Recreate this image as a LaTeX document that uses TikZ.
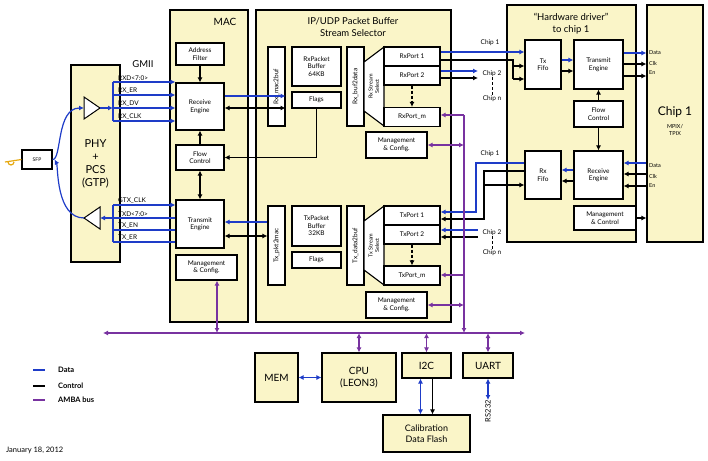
\documentclass[tikz,border=0pt]{standalone}
\usepackage{fontspec}
\setmainfont{Lato}
\usepackage{tikz}
\usetikzlibrary{calc,arrows.meta}
\definecolor{pale}{RGB}{250,245,200}
\definecolor{datab}{RGB}{30,60,200}
\definecolor{amba}{RGB}{120,50,160}
\definecolor{fibre}{RGB}{230,170,20}
\tikzset{
  blk/.style={draw,line width=1.1pt,fill=white,inner sep=0pt,align=center,font=\fontsize{6.5}{7.5}\selectfont},
  yblk/.style={blk,fill=pale},
  vblk/.style={blk,rotate=90},
  dat/.style={datab,line width=1.2pt},
  ctl/.style={black,line width=1.2pt},
  bus/.style={amba,line width=1.2pt},
  lbl/.style={font=\fontsize{6.5}{7.5}\selectfont,inner sep=0pt}
}
\begin{document}
\begin{tikzpicture}[x=1pt,y=-1pt,>={Latex[length=5pt,width=5pt]}]
  \useasboundingbox (0,0) rectangle (708,460);
  % containers
  \node[yblk,minimum width=78,minimum height=312] (mac) at (209,166) {};
  \node[font=\fontsize{10}{12}\selectfont] (mactitle) at (225,22) {MAC};
  \node[yblk,minimum width=195,minimum height=312] (ip) at (353.5,166) {};
  \node[font=\fontsize{9.5}{12}\selectfont,align=center] (iptitle) at (353,27) {IP/UDP Packet Buffer\\Stream Selector};
  \node[yblk,minimum width=129,minimum height=237] (drv) at (571.5,123.5) {};
  \node[font=\fontsize{9.5}{12}\selectfont,align=center] (drvtitle) at (571,24) {``Hardware driver''\\to chip 1};
  \node[yblk,minimum width=56,minimum height=237] (chip) at (675,123.5) {};
  \node[align=center,font=\fontsize{12}{13}\selectfont] (chiptitle) at (675,112) {Chip 1};
  \node[lbl,align=center,font=\fontsize{5.5}{7}\selectfont] (chipsub) at (675,130) {MPIX/\\TPIX};
  % PHY and SFP
  \node[yblk,minimum width=49,minimum height=197,font=\fontsize{11}{13}\selectfont] (phy) at (95.5,163.5) {PHY\\+\\PCS\\(GTP)};
  \node[blk,minimum width=30,minimum height=19,font=\fontsize{5}{6}\selectfont] (sfp) at (37,159.5) {SFP};
  \draw[line width=1pt,fill=white] (84,97) -- (100,108) -- (84,119) -- cycle;
  \draw[line width=1pt,fill=white] (100,207) -- (84,218) -- (100,229) -- cycle;
  \coordinate (rxamp) at (84,108);
  \coordinate (rxout) at (100,108);
  \coordinate (txamp) at (84,218);
  \coordinate (txin) at (100,218);
  \draw[fibre,line width=1.2pt] (5,162) -- (sfp.west) (14,162) arc (0:180:3);
  \node[font=\fontsize{9.5}{11}\selectfont] (gmii) at (143,64) {GMII};
  % MAC blocks
  \node[blk,minimum width=48,minimum height=22] (addr) at (200,54) {Address\\Filter};
  \node[blk,minimum width=48,minimum height=47] (rxeng) at (200,106.5) {Receive\\Engine};
  \node[blk,minimum width=48,minimum height=25] (flow) at (200,157.5) {Flow\\Control};
  \node[blk,minimum width=48,minimum height=48] (txeng) at (200,224) {Transmit\\Engine};
  \node[blk,minimum width=61,minimum height=25] (macmg) at (206.5,267.5) {Management\\\& Config.};
  % buffer blocks
  \node[vblk,minimum width=79,minimum height=17] (rxm2b) at (276.5,86.5) {Rx\_mac2buf};
  \node[blk,minimum width=49,minimum height=39] (rxbuf) at (316.5,66.5) {RxPacket\\Buffer\\64KB};
  \node[blk,minimum width=49,minimum height=16] (rxflags) at (316.5,100) {Flags};
  \node[vblk,minimum width=79,minimum height=17] (rxb2d) at (355.5,86.5) {Rx\_buf2data};
  \draw[line width=1.1pt,fill=white] (364,62) -- (384,47) -- (384,126) -- (364,111) -- cycle;
  \node[lbl,rotate=90,align=center,font=\fontsize{5.5}{6.5}\selectfont] (rxsel) at (374,86.5) {Rx Stream\\Select};
  \node[blk,minimum width=56,minimum height=19] (rxp1) at (412,56.5) {RxPort 1};
  \node[blk,minimum width=56,minimum height=19] (rxp2) at (412,75.5) {RxPort 2};
  \node[blk,minimum width=56,minimum height=19] (rxpm) at (412,117) {RxPort\_m};
  \node[blk,minimum width=61,minimum height=26] (rxmg) at (396.5,145) {Management\\\& Config.};
  \node[vblk,minimum width=79,minimum height=17] (txp2m) at (276.5,245.5) {Tx\_pkt2mac};
  \node[blk,minimum width=49,minimum height=40] (txbuf) at (316.5,226) {TxPacket\\Buffer\\32KB};
  \node[blk,minimum width=49,minimum height=16] (txflags) at (316.5,260) {Flags};
  \node[vblk,minimum width=79,minimum height=17] (txd2b) at (355.5,245.5) {Tx\_data2buf};
  \draw[line width=1.1pt,fill=white] (364,221) -- (384,206) -- (384,285) -- (364,270) -- cycle;
  \node[lbl,rotate=90,align=center,font=\fontsize{5.5}{6.5}\selectfont] (txsel) at (374,245.5) {Tx Stream\\Select};
  \node[blk,minimum width=56,minimum height=19] (txp1) at (412,215.5) {TxPort 1};
  \node[blk,minimum width=56,minimum height=19] (txp2) at (412,234.5) {TxPort 2};
  \node[blk,minimum width=56,minimum height=19] (txpm) at (412,275.5) {TxPort\_m};
  \node[blk,minimum width=61,minimum height=26] (txmg) at (396.5,305) {Management\\\& Config.};
  % driver blocks
  \node[blk,minimum width=36,minimum height=49] (txfifo) at (543,64.5) {Tx\\Fifo};
  \node[blk,minimum width=49,minimum height=49] (dteng) at (598.5,64.5) {Transmit\\Engine};
  \node[blk,minimum width=49,minimum height=26] (dflow) at (598.5,114) {Flow\\Control};
  \node[blk,minimum width=49,minimum height=48] (dreng) at (598.5,175) {Receive\\Engine};
  \node[blk,minimum width=36,minimum height=48] (rxfifo) at (543,175) {Rx\\Fifo};
  \node[blk,minimum width=62,minimum height=24] (dmg) at (605,218) {Management\\\& Control};
  % bottom blocks
  \node[yblk,minimum width=43,minimum height=49,font=\fontsize{10}{12}\selectfont] (mem) at (276.5,377.5) {MEM};
  \node[yblk,minimum width=74,minimum height=49,font=\fontsize{10}{12}\selectfont] (cpu) at (359,377.5) {CPU\\(LEON3)};
  \node[yblk,minimum width=49,minimum height=25,font=\fontsize{10}{12}\selectfont] (i2c) at (426.5,365.5) {I2C};
  \node[yblk,minimum width=50,minimum height=25,font=\fontsize{10}{12}\selectfont] (uart) at (488,365.5) {UART};
  \node[yblk,minimum width=87,minimum height=37,font=\fontsize{9}{11}\selectfont] (cal) at (426.5,433.5) {Calibration\\Data Flash};
  \node[rotate=90,font=\fontsize{7.5}{8}\selectfont,anchor=east,inner sep=0pt] (rs) at (488,400) {RS232};
  % PHY side
  \draw[dat,->] (sfp.east) .. controls (62,160) and (56,108) .. (rxamp);
  \draw[dat,<-] ([xshift=2]sfp.east) .. controls (58,166) and (56,218) .. (txamp);
  \draw[dat,->] (rxout) -- (113,108);
  \draw[dat] (113,82) -- (113,121);
  \foreach \y/\t in {82/RXD<7:0>,95/RX\_ER,108/RX\_DV,121/RX\_CLK} {
    \draw[dat,->] (113,\y) -- (rxeng.west |- 0,\y);
    \node[lbl,anchor=south west] (lab\y) at (118,\y-1) {\t};
  }
  \draw[dat] (113,205) -- (113,242);
  \draw[dat,->] (113,205) -- (txeng.west |- 0,205);
  \draw[dat,->] (txeng.west |- 0,218) -- (txin);
  \foreach \y in {230,242} \draw[dat] (txeng.west |- 0,\y) -- (113,\y);
  \foreach \y/\t in {205/GTX\_CLK,218/TXD<7:0>,230/TX\_EN,242/TX\_ER}
    \node[lbl,anchor=south west] (lab\y) at (118,\y-1) {\t};
  % MAC internals
  \draw[ctl,->] (addr) -- (rxeng);
  \draw[ctl,->] (flow) -- (rxeng);
  \draw[ctl,<->] (flow) -- (txeng);
  \draw[dat,->] (rxeng.east |- 0,96) -- (rxm2b.south |- 0,96);
  \draw[ctl,<->] (rxeng.east |- 0,108) -- (rxm2b.south |- 0,108);
  \draw[ctl,->] (rxflags.south) |- (flow.east);
  \draw[dat,<-] (txeng.east |- 0,222) -- (txp2m.north |- 0,222);
  \draw[ctl,<->] (txeng.east |- 0,236) -- (txp2m.north |- 0,236);
  % Rx ports to driver
  \draw[dat,->] (rxp1.east |- 0,52) -- (txfifo.west |- 0,52);
  \draw[ctl] (rxp1.east |- 0,60) -- (513,60) -- (513,79);
  \draw[ctl,->] (513,66) -- (txfifo.west |- 0,66);
  \draw[ctl,->] (513,79) -- (txfifo.west |- 0,79);
  \draw[dat,->] (rxp2.east |- 0,71) -- (478,71);
  \draw[ctl,->] (rxp2.east |- 0,78) -- (478,78);
  \draw[ctl,densely dashed,->] (rxp2) -- (rxpm);
  \node[lbl] (c1a) at (490,43) {Chip 1};
  \node[lbl] (c2a) at (492,74) {Chip 2};
  \node[lbl] (cna) at (492,99) {Chip n};
  \draw[densely dashed] (c2a) -- (cna);
  \draw[dat,->] (txfifo.east |- 0,60) -- (dteng.west |- 0,60);
  \draw[ctl,->] (txfifo.east |- 0,71) -- (dteng.west |- 0,71);
  \draw[dat,->] (dteng.east |- 0,53) -- (chip.west |- 0,53);
  \draw[ctl,->] (dteng.east |- 0,64) -- (chip.west |- 0,64);
  \draw[ctl,->] (dteng.east |- 0,76) -- (chip.west |- 0,76);
  \draw[ctl,->] (dflow) -- (dteng);
  \draw[ctl,->] (dflow) -- (dreng);
  \draw[dat,<-] (dreng.east |- 0,163) -- (chip.west |- 0,163);
  \draw[ctl,<-] (dreng.east |- 0,174) -- (chip.west |- 0,174);
  \draw[ctl,<-] (dreng.east |- 0,186) -- (chip.west |- 0,186);
  \foreach \y/\t in {53/Data,63/Clk,73/En,166/Data,176/Clk,186/En}
    \node[lbl,anchor=west,font=\fontsize{5.5}{6}\selectfont] (pin\y) at (649,\y) {\t};
  \draw[dat,->] (dreng.west |- 0,170) -- (rxfifo.east |- 0,170);
  \draw[ctl,->] (dreng.west |- 0,181) -- (rxfifo.east |- 0,181);
  \draw[ctl,->] (dmg.east) -- (chip.west |- dmg.east);
  % driver to Tx ports
  \draw[dat,->] (rxfifo.west |- 0,163) -- (476,163) -- (476,212) -- (txp1.east |- 0,212);
  \draw[ctl,->] (rxfifo.west |- 0,171) -- (484,171) -- (484,219) -- (txp1.east |- 0,219);
  \draw[ctl,<-] (rxfifo.west |- 0,185) -- (484,185);
  \draw[dat,<-] (txp2.east |- 0,230) -- (478,230);
  \draw[ctl,<-] (txp2.east |- 0,237) -- (478,237);
  \draw[ctl,densely dashed,->] (txp2) -- (txpm);
  \node[lbl] (c1b) at (490,154) {Chip 1};
  \node[lbl] (c2b) at (492,233) {Chip 2};
  \node[lbl] (cnb) at (492,253) {Chip n};
  \draw[densely dashed] (c2b) -- (cnb);
  % AMBA bus
  \coordinate (busl) at (103,333);
  \coordinate (busr) at (525,333);
  \draw[bus,<->] (busl) -- (busr);
  \draw[bus,->] (464,115) -- (464,333);
  \draw[bus,->] (464,115) -- (rxpm.east |- 0,115);
  \draw[bus,<->] (rxmg.east) -- (464,145);
  \draw[bus,->] (464,275) -- (txpm.east |- 0,275);
  \draw[bus,<->] (txmg.east) -- (464,305);
  \draw[bus,<->] (macmg.south -| 217,0) -- (217,333);
  \draw[bus,<->] (cpu.north) -- (cpu.north |- busr);
  \draw[bus,<->] (i2c.north) -- (i2c.north |- busr);
  \draw[bus,<->] (uart.north) -- (uart.north |- busr);
  \draw[dat,<->] (mem) -- (cpu);
  \draw[dat,<->] ([xshift=-6]i2c.south) -- ([xshift=-6]cal.north);
  \draw[ctl,->] ([xshift=6]i2c.south) -- ([xshift=6]cal.north);
  \draw[dat,<->] (uart.south) -- (rs.east);
  % legend
  \foreach \y/\c/\t in {370/datab/Data,386/black/Control,400/amba/AMBA bus} {
    \draw[\c,line width=1.2pt] (33,\y) -- (45,\y);
    \node[lbl,anchor=west,font=\bfseries\fontsize{7.5}{8}\selectfont] (leg\y) at (58,\y) {\t};
  }
  \node[anchor=west,inner sep=0pt,font=\fontsize{7.5}{8}\selectfont] (date) at (6,450) {January 18, 2012};
\end{tikzpicture}
\end{document}
